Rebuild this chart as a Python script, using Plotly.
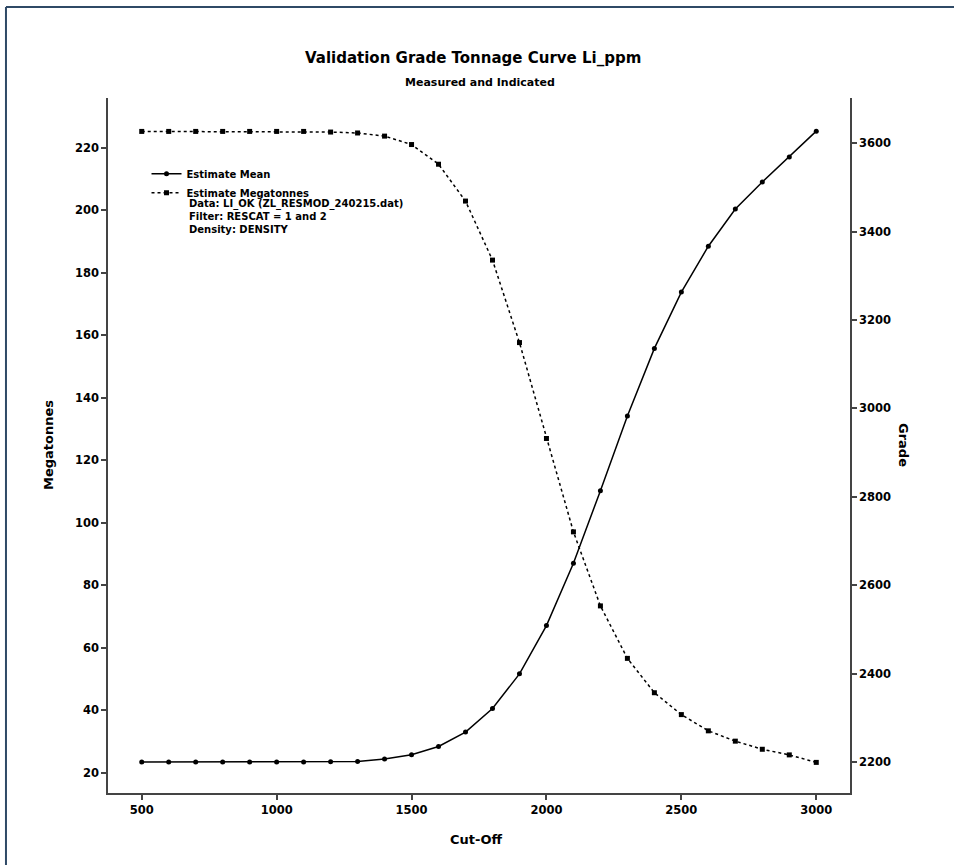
import plotly.graph_objects as go

cutoff = [500, 600, 700, 800, 900, 1000, 1100, 1200, 1300, 1400, 1500, 1600, 1700,
          1800, 1900, 2000, 2100, 2200, 2300, 2400, 2500, 2600, 2700, 2800, 2900, 3000]
megatonnes = [225.3, 225.3, 225.3, 225.3, 225.3, 225.3, 225.3, 225.1, 224.8, 223.8, 221.1,
              214.8, 203.0, 184.1, 157.7, 127.0, 97.1, 73.4, 56.6, 45.6, 38.6, 33.4, 30.1,
              27.5, 25.7, 23.3]
grade = [2200, 2200, 2200, 2200, 2200, 2200, 2200, 2200.5, 2201.4, 2206.8, 2216.5, 2235.3,
         2267.8, 2321, 2399.5, 2508.7, 2649.7, 2813.8, 2982.6, 3135.6, 3263, 3366.8, 3451,
         3512, 3568.6, 3627]
x_ticks = [500, 1000, 1500, 2000, 2500, 3000]
y1_ticks = list(range(20, 221, 20))
y2_ticks = list(range(2200, 3601, 200))
info_lines = ["Data: LI_OK (ZL_RESMOD_240215.dat)", "Filter: RESCAT = 1 and 2", "Density: DENSITY"]

FONT = "DejaVu Sans"

fig = go.Figure()
fig.add_trace(go.Scatter(
    x=cutoff, y=grade, name="<b>Estimate Mean</b>", mode="lines+markers",
    line=dict(color="black", width=1.5), marker=dict(symbol="circle", size=5, color="black"),
    yaxis="y2"))
fig.add_trace(go.Scatter(
    x=cutoff, y=megatonnes, name="<b>Estimate Megatonnes</b>", mode="lines+markers",
    line=dict(color="black", width=1.5, dash="dot"),
    marker=dict(symbol="square", size=5, color="black"), yaxis="y"))

axis_common = dict(showline=True, linecolor="#444", linewidth=1.5, ticks="outside",
                   ticklen=5, tickwidth=1.5, tickcolor="#444", showgrid=False, zeroline=False,
                   tickfont=dict(family=FONT, size=11.5, color="black", weight="bold"))

fig.update_layout(
    width=954, height=865,
    margin=dict(l=108, r=104, t=98, b=72),
    paper_bgcolor="white", plot_bgcolor="white",
    font=dict(family=FONT, color="black"),
    xaxis=dict(range=[375, 3125], tickvals=x_ticks, **axis_common),
    yaxis=dict(range=[13.5, 236], tickvals=y1_ticks, **axis_common),
    yaxis2=dict(range=[2130, 3702], tickvals=y2_ticks, overlaying="y", side="right",
                **axis_common),
    showlegend=True,
    legend=dict(x=0.0519, y=0.912, xanchor="left", yanchor="top", bgcolor="rgba(0,0,0,0)",
                font=dict(family=FONT, size=10, color="black"), tracegroupgap=0),
)

ann = [
    dict(text="<b>Validation Grade Tonnage Curve Li_ppm</b>", x=0.492, y=1.0576,
         font=dict(size=15, family=FONT)),
    dict(text="<b>Measured and Indicated</b>", x=0.501, y=1.0216, font=dict(size=11, family=FONT)),
    dict(text="<b>Cut-Off</b>", x=0.496, y=-0.0676, font=dict(size=13, family=FONT)),
    dict(text="<b>Megatonnes</b>", x=-0.0809, y=0.5007, textangle=-90,
         font=dict(size=13, family=FONT)),
    dict(text="<b>Grade</b>", x=1.0728, y=0.5007, textangle=90, font=dict(size=13, family=FONT)),
]
info_y = [0.8475, 0.8295, 0.8115]
for t, yy in zip(info_lines, info_y):
    ann.append(dict(text="<b>" + t + "</b>", x=0.1065, y=yy,
                    xanchor="left", font=dict(size=10, family=FONT)))
for a in ann:
    a.setdefault("xanchor", "center")
    fig.add_annotation(xref="paper", yref="paper", showarrow=False, yanchor="middle", **a)

# outer frame (top and left edges visible)
fig.add_shape(type="line", xref="paper", yref="paper", x0=-0.1375, x1=1.2, y0=1.131, y1=1.131,
              line=dict(color="#2f4a66", width=2))
fig.add_shape(type="line", xref="paper", yref="paper", x0=-0.1375, x1=-0.1375, y0=1.131, y1=-0.2,
              line=dict(color="#2f4a66", width=2))

fig.write_html("out.html")
